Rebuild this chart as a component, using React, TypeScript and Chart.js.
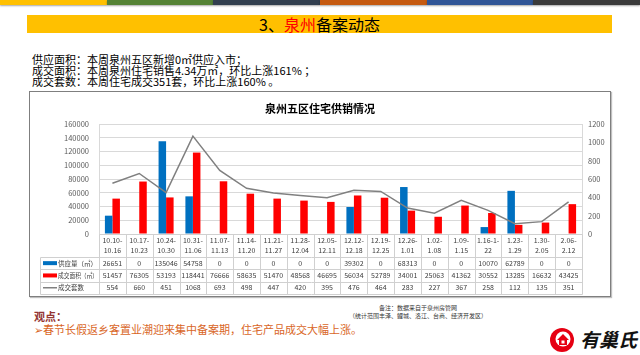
import React, { useEffect, useRef } from "react";
import { Chart, registerables } from "chart.js";

Chart.register(...registerables);

const categoryStart = ["10.10-", "10.17-", "10.24-", "10.31-", "11.07-", "11.14-", "11.21-", "11.28-", "12.05-", "12.12-", "12.19-", "12.26-", "1.02-", "1.09-", "1.16-1-", "1.23-", "1.30-", "2.06-"];
const categoryEnd = ["10.16", "10.23", "10.30", "11.06", "11.13", "11.20", "11.27", "12.04", "12.11", "12.18", "12.25", "1.01", "1.08", "1.15", "22", "1.29", "2.05", "2.12"];
const supplyArea = [26651, 0, 135046, 54758, 0, 0, 0, 0, 0, 39302, 0, 68313, 0, 0, 10070, 62789, 0, 0];
const dealArea = [51457, 76305, 53193, 118441, 76666, 58635, 51470, 48568, 46695, 56034, 52789, 34001, 25063, 41362, 30552, 13285, 16632, 43425];
const dealUnits = [554, 660, 451, 1068, 693, 498, 447, 420, 395, 476, 464, 283, 227, 367, 258, 112, 135, 351];
const seriesNames = ["供应量（㎡）", "成交面积（㎡）", "成交套数"];
const leftAxis = { max: 160000, step: 20000 };
const rightAxis = { max: 1200, step: 200 };

const FONT = '"Noto Sans CJK SC", "Noto Sans", sans-serif';
const BLUE = "#0070C0";
const RED = "#FF0000";
const GREY = "#808080";

const tablePlugin = {
  id: "dataTable",
  afterDraw(chart: any) {
    const { ctx, chartArea, scales } = chart;
    const x = scales.x;
    const n = categoryStart.length;
    const cw = x.getPixelForValue(1) - x.getPixelForValue(0);
    const top = chartArea.bottom;
    const labelBottom = top + 23;
    const rowH = 12.3;
    const rows = [supplyArea, dealArea, dealUnits];
    const tableBottom = labelBottom + rowH * 3;
    const legendLeft = 10;
    const left = x.getPixelForValue(0) - cw / 2;
    const right = x.getPixelForValue(n - 1) + cw / 2;
    const px = (v: number) => Math.round(v) + 0.5;
    const line = (x1: number, y1: number, x2: number, y2: number) => {
      ctx.beginPath();
      ctx.moveTo(px(x1), px(y1));
      ctx.lineTo(px(x2), px(y2));
      ctx.stroke();
    };
    ctx.save();
    ctx.strokeStyle = "#D0D0D0";
    ctx.lineWidth = 1;
    line(left, top, right, top);
    for (let r = 0; r <= 3; r++) {
      const y = labelBottom + r * rowH;
      line(legendLeft, y, right, y);
    }
    for (let i = 0; i <= n; i++) {
      const xx = left + i * cw;
      line(xx, top, xx, tableBottom);
    }
    line(legendLeft, labelBottom, legendLeft, tableBottom);

    ctx.fillStyle = "#404040";
    ctx.textAlign = "center";
    ctx.textBaseline = "middle";
    ctx.font = `7px ${FONT}`;
    for (let i = 0; i < n; i++) {
      const cx = x.getPixelForValue(i);
      ctx.fillText(categoryStart[i], cx, top + 6.5, cw - 2);
      ctx.fillText(categoryEnd[i], cx, top + 16.5, cw - 2);
      for (let r = 0; r < 3; r++) {
        ctx.fillText(String(rows[r][i]), cx, labelBottom + (r + 0.5) * rowH, cw - 2);
      }
    }
    // legend keys
    for (let r = 0; r < 3; r++) {
      const cy = labelBottom + (r + 0.5) * rowH;
      if (r === 0) {
        ctx.fillStyle = BLUE;
        ctx.fillRect(legendLeft + 3, cy - 2, 14, 4);
      } else if (r === 1) {
        ctx.fillStyle = RED;
        ctx.fillRect(legendLeft + 3, cy - 2, 14, 4);
      } else {
        ctx.strokeStyle = GREY;
        ctx.lineWidth = 1.5;
        ctx.beginPath();
        ctx.moveTo(legendLeft + 3, cy);
        ctx.lineTo(legendLeft + 17, cy);
        ctx.stroke();
      }
      ctx.fillStyle = "#404040";
      ctx.textAlign = "left";
      ctx.font = `6.5px ${FONT}`;
      ctx.fillText(seriesNames[r], legendLeft + 18, cy, left - legendLeft - 19);
    }
    ctx.restore();
  },
};

function ChartBox() {
  const ref = useRef<HTMLCanvasElement | null>(null);
  useEffect(() => {
    if (!ref.current) return;
    const chart = new Chart(ref.current, {
      type: "bar",
      data: {
        labels: categoryStart.map((s, i) => s + categoryEnd[i]),
        datasets: [
          {
            type: "line",
            label: seriesNames[2],
            data: dealUnits,
            yAxisID: "y1",
            borderColor: GREY,
            borderWidth: 1.5,
            pointRadius: 0,
            tension: 0,
            order: 0,
          } as any,
          {
            label: seriesNames[0],
            data: supplyArea,
            backgroundColor: BLUE,
            yAxisID: "y",
            barPercentage: 1,
            categoryPercentage: 0.56,
            order: 1,
          },
          {
            label: seriesNames[1],
            data: dealArea,
            backgroundColor: RED,
            yAxisID: "y",
            barPercentage: 1,
            categoryPercentage: 0.56,
            order: 1,
          },
        ],
      },
      options: {
        animation: false,
        responsive: false,
        devicePixelRatio: 1,
        layout: { padding: { top: 32, bottom: 62, left: 0, right: 0 } },
        plugins: {
          legend: { display: false },
          tooltip: { enabled: false },
          title: { display: false },
        },
        scales: {
          x: {
            ticks: { display: false },
            grid: { display: false },
            border: { display: false },
            afterFit: (s: any) => {
              s.height = 0;
            },
          },
          y: {
            position: "left",
            min: 0,
            max: leftAxis.max,
            ticks: {
              stepSize: leftAxis.step,
              padding: 10,
              color: "#595959",
              font: { size: 7.5, family: FONT },
              callback: (v: any) => String(v),
            },
            grid: { color: "#D9D9D9", drawTicks: false },
            border: { display: true, color: "#D9D9D9" },
            afterFit: (s: any) => {
              s.width = 69;
            },
          },
          y1: {
            position: "right",
            min: 0,
            max: rightAxis.max,
            ticks: {
              stepSize: rightAxis.step,
              padding: 6,
              color: "#595959",
              font: { size: 7.5, family: FONT },
              callback: (v: any) => String(v),
            },
            grid: { drawOnChartArea: false, drawTicks: false },
            border: { display: true, color: "#D9D9D9" },
            afterFit: (s: any) => {
              s.width = 28;
            },
          },
        },
      } as any,
      plugins: [tablePlugin],
    });
    return () => chart.destroy();
  }, []);
  return <canvas ref={ref} width={580} height={204} style={{ width: 580, height: 204, display: "block" }} />;
}

const stripeColors = ["#FFC000", "#548235", "#323F4F", "#C55A11", "#2F5597", "#3A3A3A"];

export default function App() {
  return (
    <div
      style={{
        position: "fixed",
        left: 0,
        top: 0,
        width: 640,
        height: 355,
        background: "#fff",
        overflow: "hidden",
        fontFamily: FONT,
        color: "#000",
      }}
    >
      {stripeColors.map((c, i) => (
        <div
          key={c}
          style={{
            position: "absolute",
            top: 0,
            left: Math.round((i * 640) / 6),
            width: Math.round(((i + 1) * 640) / 6) - Math.round((i * 640) / 6),
            height: 5,
            background: c,
            boxShadow: "0 1px 2px rgba(0,0,0,0.35)",
          }}
        />
      ))}
      <div
        style={{
          position: "absolute",
          left: 27,
          top: 15,
          width: 585,
          height: 18,
          background: "#FFC000",
          textAlign: "center",
          fontSize: 16,
          lineHeight: "18px",
        }}
      >
        3、<span style={{ color: "#FF0000" }}>泉州</span>备案动态
      </div>
      <div style={{ position: "absolute", left: 32, top: 54, fontSize: 11, lineHeight: "11px", whiteSpace: "pre" }}>
        <div>供应面积：本周泉州五区新增0㎡供应入市；</div>
        <div>成交面积：本周泉州住宅销售4.34万㎡，环比上涨161% ；</div>
        <div>成交套数：本周住宅成交351套，环比上涨160% 。</div>
      </div>
      <div
        style={{
          position: "absolute",
          left: 29,
          top: 91,
          width: 580,
          height: 204,
          border: "1px solid #7F7F7F",
          boxShadow: "1px 1px 1px rgba(0,0,0,0.25)",
          background: "#fff",
        }}
      >
        <ChartBox />
        <div
          style={{
            position: "absolute",
            left: 0,
            width: 580,
            top: 10,
            textAlign: "center",
            fontSize: 11,
            lineHeight: "13px",
            fontWeight: "bold",
            color: "#000",
          }}
        >
          泉州五区住宅供销情况
        </div>
      </div>
      <div
        style={{
          position: "absolute",
          left: 318,
          width: 200,
          top: 304,
          textAlign: "center",
          fontSize: 6,
          lineHeight: "8px",
          color: "#333",
        }}
      >
        <div>备注：数据来自于泉州房管网</div>
        <div>（统计范围丰泽、鲤城、洛江、台商、经济开发区）</div>
      </div>
      <div style={{ position: "absolute", left: 34, top: 310, fontSize: 11, lineHeight: "13px", fontWeight: "bold", color: "#943634" }}>
        观点：
      </div>
      <div style={{ position: "absolute", left: 34, top: 323, fontSize: 11, lineHeight: "13px", color: "#D9661F", whiteSpace: "pre" }}>
        ➢春节长假返乡客置业潮迎来集中备案期，住宅产品成交大幅上涨。
      </div>
      <svg style={{ position: "absolute", left: 546, top: 324 }} width={36} height={30} viewBox="0 0 36 30">
        <circle cx={16} cy={16} r={12} fill="#E60012" />
        <circle cx={17} cy={15} r={7.5} fill="#fff" />
        <polygon points="11,16 17,10 23,16 21,16 21,21 13,21 13,16" fill="#E60012" />
        <rect x={15.5} y={16.5} width={3} height={3} fill="#fff" />
      </svg>
      <div
        style={{
          position: "absolute",
          left: 580,
          top: 327,
          fontSize: 19,
          lineHeight: "24px",
          fontWeight: "bold",
          fontStyle: "italic",
          color: "#111",
          whiteSpace: "pre",
        }}
      >
        有巢氏
      </div>
    </div>
  );
}
